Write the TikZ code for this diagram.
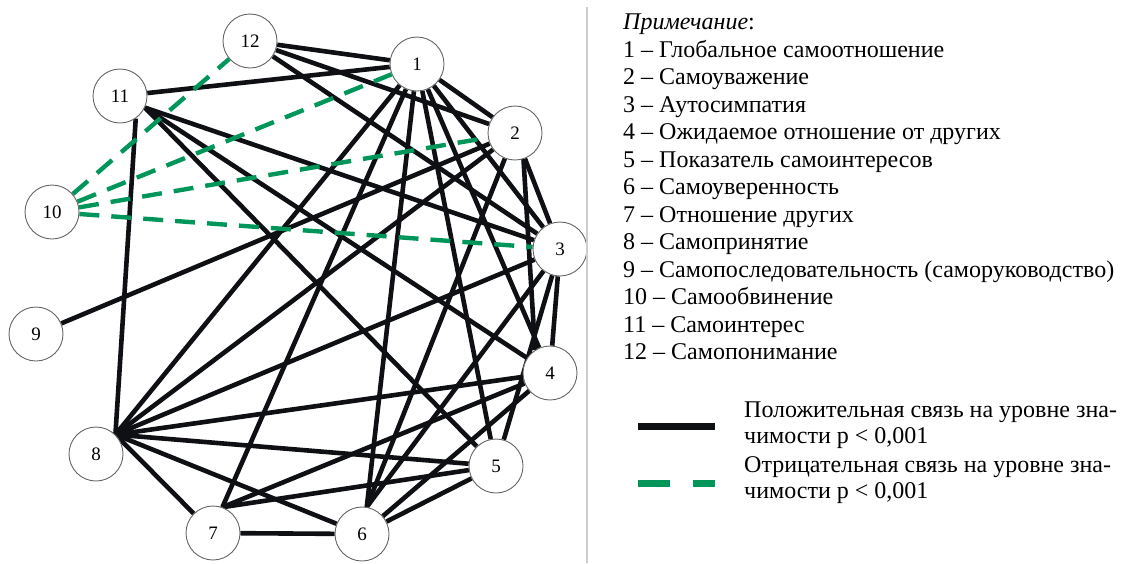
\documentclass[tikz,border=0pt]{standalone}
\usepackage{fontspec}
\setmainfont{Liberation Serif}
\definecolor{edgeblack}{RGB}{14,16,20}
\definecolor{neggreen}{RGB}{0,150,90}
\definecolor{sepgray}{RGB}{205,205,205}
\pgfdeclarelayer{bg}
\pgfsetlayers{bg,main}
\tikzset{
  vnode/.style={circle, draw=black!60, line width=0.9pt, fill=white, minimum size=54pt, inner sep=0pt, font=\fontsize{19}{19}\selectfont},
  poslink/.style={draw=edgeblack, line width=4.6pt},
  neglink/.style={draw=neggreen, line width=4.4pt, dash pattern=on 20pt off 12pt},
  legtext/.style={anchor=base west, inner sep=0pt, font=\fontsize{24}{24}\selectfont},
}
\begin{document}
\begin{tikzpicture}[x=1pt,y=-1pt]
\useasboundingbox (0,0) rectangle (1123,563);
% nodes
\node[vnode] (n1) at (417,64) {1};
\node[vnode] (n2) at (515,133) {2};
\node[vnode] (n3) at (560,249) {3};
\node[vnode] (n4) at (550,373) {4};
\node[vnode] (n5) at (496,466) {5};
\node[vnode] (n6) at (362,534) {6};
\node[vnode] (n7) at (213,533) {7};
\node[vnode] (n8) at (96,454) {8};
\node[vnode] (n9) at (36,334) {9};
\node[vnode] (n10) at (52,212) {10};
\node[vnode] (n11) at (120,96) {11};
\node[vnode] (n12) at (250,41) {12};
\begin{pgfonlayer}{bg}
% positive links
\draw[poslink] (n1) -- (n2);
\draw[poslink] (n1) -- (n3);
\draw[poslink] (n1) -- (n4);
\draw[poslink] (n1) -- (n5);
\draw[poslink] (n1) -- (n6.80);
\draw[poslink] (n1) -- (n7.70);
\draw[poslink] (n1) -- (n8.45);
\draw[poslink] (n1) -- (n11);
\draw[poslink] (n1) -- (n12);
\draw[poslink] (n2) -- (n3);
\draw[poslink] (n2.-72) -- (n4.123);
\draw[poslink] (n2) -- (n6.80);
\draw[poslink] (n2) -- (n8.45);
\draw[poslink] (n2) -- (n9);
\draw[poslink] (n2) -- (n12);
\draw[poslink] (n3) -- (n4);
\draw[poslink] (n3) -- (n5);
\draw[poslink] (n3) -- (n6.80);
\draw[poslink] (n3) -- (n8.45);
\draw[poslink] (n3) -- (n11.-25);
\draw[poslink] (n3) -- (n12);
\draw[poslink] (n4) -- (n6);
\draw[poslink] (n4) -- (n7.70);
\draw[poslink] (n4) -- (n8.45);
\draw[poslink] (n4) -- (n11.-25);
\draw[poslink] (n5) -- (n6);
\draw[poslink] (n5) -- (n7.70);
\draw[poslink] (n5) -- (n8.45);
\draw[poslink] (n5) -- (n11.-25);
\draw[poslink] (n6) -- (n7);
\draw[poslink] (n6) -- (n8.45);
\draw[poslink] (n7) -- (n8.45);
\draw[poslink] (n8.45) -- (n11.-55);
% negative links
\draw[neglink] (n10) -- (n12);
\draw[neglink] (n10) -- (n1);
\draw[neglink] (n10) -- (n2);
\draw[neglink] (n10) -- (n3);
\end{pgfonlayer}
% separator
\draw[sepgray, line width=1.5pt] (587,7) -- (587,563);
% legend list
\node[legtext] (t0) at (623,29.5) {\textit{Примечание}:};
\node[legtext] (t1) at (623,57) {1 – Глобальное самоотношение};
\node[legtext] (t2) at (623,84.5) {2 – Самоуважение};
\node[legtext] (t3) at (623,112) {3 – Аутосимпатия};
\node[legtext] (t4) at (623,139.5) {4 – Ожидаемое отношение от других};
\node[legtext] (t5) at (623,167) {5 – Показатель самоинтересов};
\node[legtext] (t6) at (623,194.5) {6 – Самоуверенность};
\node[legtext] (t7) at (623,222) {7 – Отношение других};
\node[legtext] (t8) at (623,249.5) {8 – Самопринятие};
\node[legtext] (t9) at (623,277) {9 – Самопоследовательность (саморуководство)};
\node[legtext] (t10) at (623,304.5) {10 – Самообвинение};
\node[legtext] (t11) at (623,332) {11 – Самоинтерес};
\node[legtext] (t12) at (623,359.5) {12 – Самопонимание};
% legend keys
\coordinate (kp1) at (638,426.5);
\coordinate (kp2) at (715,426.5);
\coordinate (kn1) at (638,483);
\coordinate (kn2) at (715,483);
\draw[draw=edgeblack, line width=7pt] (kp1) -- (kp2);
\draw[draw=neggreen, line width=7pt, dash pattern=on 32pt off 23pt] (kn1) -- (kn2);
\node[legtext] (lp1) at (744,417) {Положительная связь на уровне зна-};
\node[legtext] (lp2) at (744,443) {чимости p < 0,001};
\node[legtext] (ln1) at (744,472) {Отрицательная связь на уровне зна-};
\node[legtext] (ln2) at (744,498) {чимости p < 0,001};
\end{tikzpicture}
\end{document}
